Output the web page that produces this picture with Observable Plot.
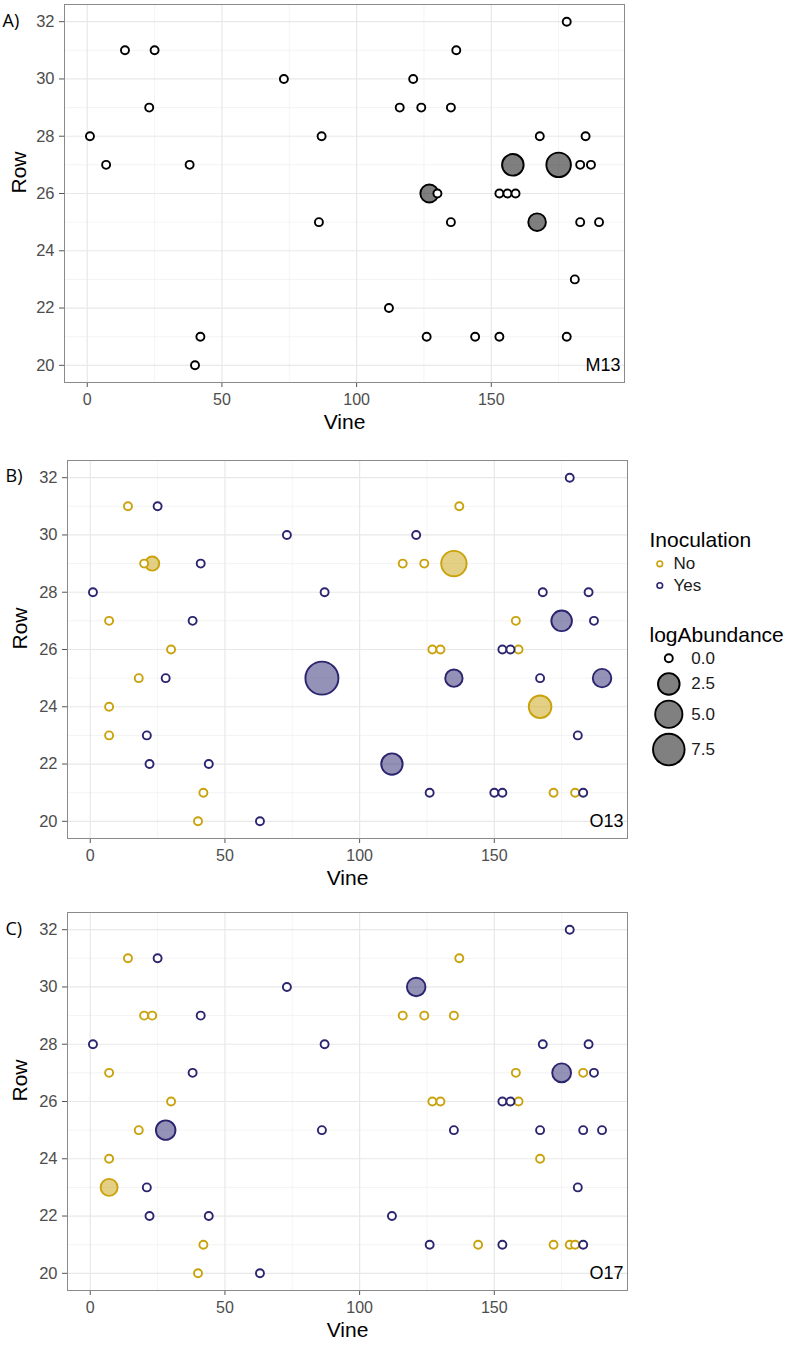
<!DOCTYPE html>
<html><head><meta charset="utf-8">
<script src="https://cdn.jsdelivr.net/npm/d3@7"></script>
<script src="https://cdn.jsdelivr.net/npm/@observablehq/plot@0.6"></script>
<style>
html,body{margin:0;padding:0;background:#fff;overflow:hidden}
#wrap{position:relative;width:794px;height:1345px;background:#fff}
#wrap > div{position:absolute;left:0}
svg{overflow:visible}
</style></head><body><div id="wrap"></div>
<script>
// ---------- DATA ----------
// Panel A (M13)
const m13Vine  = [14,25,73,23,1,87,7,38,86,112,42,40,116,178,137,121,124,135,168,185,158,175,183,187,127,130,153,156,159,135,167,183,190,181,126,144,153,178];
const m13Row   = [31,31,30,29,28,28,27,27,25,22,21,20,29,32,31,30,29,29,28,28,27,27,27,27,26,26,26,26,26,25,25,25,25,23,21,21,21,21];
const m13Abund = [0,0,0,0,0,0,0,0,0,0, 0,0,0,0,0,0,0,0,0,0, 2.5,3.7,0,0,1.35,0,0,0,0,0, 1.25,0,0,0,0,0,0,0];

// Panel B (O13)
const o13Vine  = [14,20,23,7,30,18,7,7,42,40,137,116,124,135,158,127,130,159,167,172,180,
                  25,73,41,1,87,38,28,86,21,22,44,112,63,178,121,168,185,175,187,153,156,135,167,190,181,126,150,153,183];
const o13Row   = [31,29,29,27,26,25,24,23,21,20,31,29,29,29,27,26,26,26,24,21,21,
                  31,30,29,28,28,27,25,25,23,22,22,22,20,32,30,28,28,27,27,26,26,25,25,25,23,21,21,21,21];
const o13Inoc  = ["No","No","No","No","No","No","No","No","No","No","No","No","No","No","No","No","No","No","No","No","No",
                  "Yes","Yes","Yes","Yes","Yes","Yes","Yes","Yes","Yes","Yes","Yes","Yes","Yes","Yes","Yes","Yes","Yes","Yes","Yes","Yes","Yes","Yes","Yes","Yes","Yes","Yes","Yes","Yes","Yes"];
const o13Abund = [0,0,0.5,0,0,0,0,0,0,0,0,0,0,4.1,0,0,0,0,2.9,0,0,
                  0,0,0,0,0,0,0,8.45,0,0,0,2.43,0,0,0,0,0,2.15,0,0,0,1.2,0,1.5,0,0,0,0,0];

// Panel C (O17)
const o17Vine  = [14,20,23,7,30,18,7,7,42,40,137,116,124,135,158,183,127,130,159,167,144,172,178,180,
                  25,73,41,1,87,38,28,86,21,22,44,112,63,178,121,168,185,175,187,153,156,135,167,183,190,181,126,153,183];
const o17Row   = [31,29,29,27,26,25,24,23,21,20,31,29,29,29,27,27,26,26,26,24,21,21,21,21,
                  31,30,29,28,28,27,25,25,23,22,22,22,20,32,30,28,28,27,27,26,26,25,25,25,25,23,21,21,21];
const o17Inoc  = ["No","No","No","No","No","No","No","No","No","No","No","No","No","No","No","No","No","No","No","No","No","No","No","No",
                  "Yes","Yes","Yes","Yes","Yes","Yes","Yes","Yes","Yes","Yes","Yes","Yes","Yes","Yes","Yes","Yes","Yes","Yes","Yes","Yes","Yes","Yes","Yes","Yes","Yes","Yes","Yes","Yes","Yes"];
const o17Abund = [0,0,0,0,0,0,0,1.1,0,0,0,0,0,0,0,0,0,0,0,0,0,0,0,0,
                  0,0,0,0,0,0,1.8,0,0,0,0,0,0,0,1.5,0,0,1.6,0,0,0,0,0,0,0,0,0,0,0];

// Axis ticks and legend values
const xMajor = [0, 50, 100, 150];
const xMinor = [25, 75, 125, 175];
const yMajor = [20, 22, 24, 26, 28, 30, 32];
const yMinor = [21, 23, 25, 27, 29, 31];
const inocLevels = ["No", "Yes"];
const sizeKeys = [0, 2.5, 5, 7.5];
const sizeKeyLabels = ["0.0", "2.5", "5.0", "7.5"];

// ---------- STYLE ----------
const GOLD = "#c9a20c", BLUE = "#2b2570";
const FONT = "'Liberation Sans', Arial, Helvetica, sans-serif";
const rOpts = {type: "sqrt", domain: [0, 9], range: [4.0, 16.9]};
const colorOpts = {domain: inocLevels, range: [GOLD, BLUE]};
const SW = 1.9;

const wrap = document.getElementById("wrap");

function panel({vine, row, abund, inoc, tag, letter, top, mLeft, rowDx, letterDx, letterDy}) {
  const data = vine.map((v, i) => ({vine: v, row: row[i], abund: abund[i], inoc: inoc ? inoc[i] : null}));
  const big = data.filter(d => d.abund > 0).sort((a, b) => b.abund - a.abund);
  const small = data.filter(d => d.abund === 0);
  const colored = !!inoc;
  const plot = Plot.plot({
    width: mLeft + 560 + 16,
    height: 440,
    marginLeft: mLeft, marginRight: 16, marginTop: 4, marginBottom: 58,
    x: {domain: [-8.45, 199.45]},
    y: {domain: [19.4, 32.6]},
    r: rOpts,
    color: colorOpts,
    style: {fontFamily: FONT, fontSize: "16px", color: "#4d4d4d", background: "transparent", overflow: "visible"},
    marks: [
      Plot.gridX(xMinor, {stroke: "#efefef", strokeOpacity: 1, strokeWidth: 0.7}),
      Plot.gridY(yMinor, {stroke: "#efefef", strokeOpacity: 1, strokeWidth: 0.7}),
      Plot.gridX(xMajor, {stroke: "#e8e8e8", strokeOpacity: 1, strokeWidth: 1.2}),
      Plot.gridY(yMajor, {stroke: "#e8e8e8", strokeOpacity: 1, strokeWidth: 1.2}),
      Plot.axisX({ticks: xMajor, tickSize: 5, tickPadding: 6, label: null, fontSize: 16, stroke: "#555", fill: "#4d4d4d"}),
      Plot.axisY({ticks: yMajor, tickSize: 5, tickPadding: 5, label: null, fontSize: 16.5, stroke: "#555", fill: "#4d4d4d"}),
      Plot.dot(big, {x: "vine", y: "row", r: "abund",
        stroke: colored ? "inoc" : "black", fill: colored ? "inoc" : "black", fillOpacity: 0.5, strokeWidth: SW}),
      Plot.dot(small, {x: "vine", y: "row", r: "abund",
        stroke: colored ? "inoc" : "black", fill: "white", strokeWidth: SW}),
      Plot.frame({stroke: "#8a8a8a", strokeWidth: 1}),
      Plot.text(["Row"], {text: d => d, frameAnchor: "left", rotate: -90, dx: rowDx, fontSize: 21, fill: "black"}),
      Plot.text(["Vine"], {text: d => d, frameAnchor: "bottom", dy: 46, fontSize: 21, fill: "black"}),
      Plot.text([tag], {text: d => d, frameAnchor: "bottom-right", textAnchor: "end", dx: -4, dy: -11.6, fontSize: 18, fill: "black"}),
      Plot.text([letter], {text: d => d, frameAnchor: "top-left", textAnchor: "start", dx: letterDx, dy: letterDy,
        fontSize: 18, fill: "black", fontFamily: "'Open Sans', sans-serif"})
    ]
  });
  const holder = document.createElement("div");
  holder.style.top = top + "px";
  holder.appendChild(plot);
  wrap.appendChild(holder);
}

panel({vine: m13Vine, row: m13Row, abund: m13Abund, inoc: null, tag: "M13", letter: "A)", top: 0, mLeft: 64, rowDx: -45.7, letterDx: -62, letterDy: 10.2});
panel({vine: o13Vine, row: o13Row, abund: o13Abund, inoc: o13Inoc, tag: "O13", letter: "B)", top: 456, mLeft: 67, rowDx: -47.4, letterDx: -62, letterDy: 9.2});
panel({vine: o17Vine, row: o17Row, abund: o17Abund, inoc: o17Inoc, tag: "O17", letter: "C)", top: 908, mLeft: 67, rowDx: -47.4, letterDx: -62, letterDy: 10});

// ---------- LEGEND (beside panel B) ----------
const rScale = d3.scaleSqrt().domain(rOpts.domain).range(rOpts.range);
const keyY = [];
{
  let c = 137.7;
  sizeKeys.forEach((v, i) => {
    const h = Math.max(24, 2 * (rScale(v) + SW / 2) + 4);
    if (i > 0) {
      const hp = Math.max(24, 2 * (rScale(sizeKeys[i - 1]) + SW / 2) + 4);
      c += hp / 2 + h / 2;
    }
    keyY.push(c);
  });
}
const sizeData = sizeKeys.map((v, i) => ({v, label: sizeKeyLabels[i], y: keyY[i]}));
const inocData = inocLevels.map((k, i) => ({k, y: 43.3 + i * 21.7}));

const legend = Plot.plot({
  width: 154, height: 260, margin: 0,
  x: {type: "identity", axis: null},
  y: {type: "identity", axis: null},
  r: rOpts,
  color: colorOpts,
  style: {fontFamily: FONT, background: "transparent", overflow: "visible"},
  marks: [
    Plot.text(["Inoculation"], {text: d => d, x: 9, y: 20, textAnchor: "start", fontSize: 21, fill: "black"}),
    Plot.dot(inocData, {x: 19.3, y: "y", r: 2.8, stroke: "k", fill: "white", strokeWidth: 1.6}),
    Plot.text(inocData, {x: 33, y: "y", text: "k", textAnchor: "start", fontSize: 17, fill: "#1a1a1a"}),
    Plot.text(["logAbundance"], {text: d => d, x: 9, y: 115, textAnchor: "start", fontSize: 21, fill: "black"}),
    Plot.dot(sizeData, {x: 28.3, y: "y", r: "v", stroke: "black", strokeWidth: SW,
      fill: d => d.v > 0 ? "#808080" : "white"}),
    Plot.text(sizeData, {x: 50.7, y: "y", text: "label", textAnchor: "start", fontSize: 17, fill: "#1a1a1a"})
  ]
});
const lh = document.createElement("div");
lh.style.top = "520px";
lh.style.left = "640px";
lh.appendChild(legend);
wrap.appendChild(lh);
</script>
</body></html>
